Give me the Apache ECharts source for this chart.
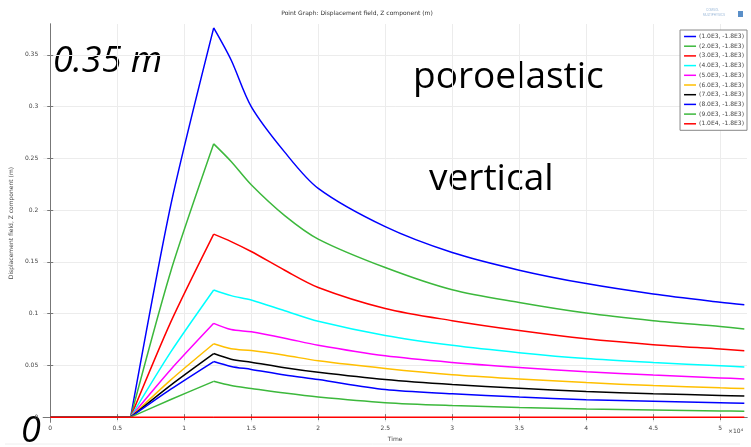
<!DOCTYPE html>
<html>
<head>
<meta charset="utf-8">
<script src="https://cdn.jsdelivr.net/npm/echarts@6/dist/echarts.min.js"></script>
<style>
  html, body { margin: 0; padding: 0; background: #fff; }
  #chart { width: 751px; height: 447px; }
</style>
</head>
<body>
<div id="chart"></div>
<script>
// time axis (x 10^4), shared by all series
var times = [0, 0.6, 0.9, 1.22, 1.35, 1.5, 1.75, 2, 2.5, 3, 3.5, 4, 4.5, 5, 5.18];

var names = ['(1.0E3, -1.8E3)', '(2.0E3, -1.8E3)', '(3.0E3, -1.8E3)', '(4.0E3, -1.8E3)', '(5.0E3, -1.8E3)',
             '(6.0E3, -1.8E3)', '(7.0E3, -1.8E3)', '(8.0E3, -1.8E3)', '(9.0E3, -1.8E3)', '(1.0E4, -1.8E3)'];

var s1  = [0, 0, 0.205, 0.376, 0.345, 0.300, 0.256, 0.221, 0.184, 0.159, 0.142, 0.129, 0.119, 0.111, 0.1085];
var s2  = [0, 0, 0.141, 0.264, 0.247, 0.2245, 0.1947, 0.172, 0.1445, 0.123, 0.1107, 0.1005, 0.0932, 0.0875, 0.0852];
var s3  = [0, 0, 0.092, 0.1768, 0.1696, 0.160, 0.1419, 0.1253, 0.105, 0.0932, 0.0837, 0.0757, 0.070, 0.0658, 0.0642];
var s4  = [0, 0, 0.063, 0.1228, 0.1174, 0.1132, 0.1028, 0.0926, 0.0789, 0.0694, 0.0623, 0.0566, 0.0528, 0.0496, 0.0484];
var s5  = [0, 0, 0.046, 0.0906, 0.0846, 0.0824, 0.0763, 0.0694, 0.0592, 0.0528, 0.048, 0.0439, 0.0407, 0.0379, 0.0369];
var s6  = [0, 0, 0.036, 0.0709, 0.0661, 0.0643, 0.0598, 0.0544, 0.047, 0.041, 0.0369, 0.0334, 0.0305, 0.0283, 0.0277];
var s7  = [0, 0, 0.031, 0.0614, 0.056, 0.0531, 0.0477, 0.0433, 0.0363, 0.0315, 0.028, 0.0248, 0.0226, 0.021, 0.0203];
var s8  = [0, 0, 0.027, 0.0537, 0.049, 0.0461, 0.0407, 0.0363, 0.0267, 0.0226, 0.0194, 0.0169, 0.0153, 0.014, 0.0134];
var s9  = [0, 0, 0.017, 0.0346, 0.0305, 0.0277, 0.0232, 0.0194, 0.014, 0.0112, 0.0093, 0.0079, 0.007, 0.006, 0.0057];
var s10 = [0, 0, 0, 0, 0, 0, 0, 0, 0, 0, 0, 0, 0, 0, 0];

var xTicks = [0, 0.5, 1, 1.5, 2, 2.5, 3, 3.5, 4, 4.5, 5];
var yTicks = [0, 0.05, 0.1, 0.15, 0.2, 0.25, 0.3, 0.35];

var colors = ['#0000ff', '#3cb83c', '#ff0000', '#00ffff', '#ff00ff', '#ffbf00', '#000000', '#0000ff', '#3cb83c', '#ff0000'];
var allSeries = [s1, s2, s3, s4, s5, s6, s7, s8, s9, s10];

var chart = echarts.init(document.getElementById('chart'));

// each curve in 3 pieces (flat / rise / decay) so the smoothing keeps the kinks sharp
var pieces = [[0, 1, false], [1, 3, 0.25], [3, times.length - 1, 0.3]];
var series = [];
for (var i = 0; i < allSeries.length; i++) {
    for (var p = 0; p < pieces.length; p++) {
        var pts = [];
        for (var j = pieces[p][0]; j <= pieces[p][1]; j++) {
            pts.push([times[j], allSeries[i][j]]);
        }
        series.push({
            name: names[i],
            type: 'line',
            data: pts,
            smooth: pieces[p][2],
            showSymbol: false,
            lineStyle: { width: 1.5, color: colors[i] },
            itemStyle: { color: colors[i] },
            animation: false
        });
    }
}

var labelStyle = { fontSize: 6, color: '#444', fontFamily: 'DejaVu Sans' };

var option = {
    backgroundColor: '#fff',
    animation: false,
    color: colors,
    title: {
        text: 'Point Graph: Displacement field, Z component (m)',
        left: 352, top: 5, textAlign: 'center',
        textStyle: { fontSize: 6, fontWeight: 'normal', color: '#333', fontFamily: 'DejaVu Sans' }
    },
    grid: { left: 43, right: 4, top: 24, bottom: 20 },
    legend: {
        orient: 'vertical',
        right: 4, top: 30,
        backgroundColor: '#fff',
        borderColor: '#888', borderWidth: 1,
        padding: [3, 3, 3, 4],
        itemWidth: 12, itemHeight: 1.5, itemGap: 2.7,
        icon: 'rect',
        textStyle: { fontSize: 6, lineHeight: 7, color: '#444', fontFamily: 'DejaVu Sans', padding: [0, 0, 0, -2] },
        data: names
    },
    xAxis: [{
        type: 'value',
        min: -0.052, max: 5.2,
        name: 'Time', nameLocation: 'middle', nameGap: 10,
        nameTextStyle: labelStyle,
        axisLine: { lineStyle: { color: '#777', width: 1 } },
        axisTick: { inside: true, length: 3, customValues: xTicks, lineStyle: { color: '#777' } },
        axisLabel: { customValues: xTicks, fontSize: 6, color: '#444', margin: 3, fontFamily: 'DejaVu Sans' },
        splitLine: { show: true, lineStyle: { color: '#ececec', width: 1 } }
    }, {
        type: 'value', position: 'top',
        min: -0.052, max: 5.2,
        axisLine: { lineStyle: { color: '#777', width: 1 } },
        axisTick: { inside: true, length: 3, customValues: xTicks, lineStyle: { color: '#777' } },
        axisLabel: { show: false },
        splitLine: { show: false }
    }],
    yAxis: [{
        type: 'value',
        min: -0.0048, max: 0.3798,
        name: 'Displacement field, Z component (m)', nameLocation: 'middle', nameGap: 29,
        nameTextStyle: labelStyle,
        axisLine: { show: true, lineStyle: { color: '#777', width: 1 } },
        axisTick: { show: true, inside: true, length: 3, customValues: yTicks, lineStyle: { color: '#777' } },
        axisLabel: { customValues: yTicks, fontSize: 6, color: '#444', margin: 5, fontFamily: 'DejaVu Sans' },
        splitLine: { show: true, lineStyle: { color: '#ececec', width: 1 } }
    }, {
        type: 'value', position: 'right',
        min: -0.0048, max: 0.3798,
        axisLine: { show: true, lineStyle: { color: '#777', width: 1 } },
        axisTick: { show: true, inside: true, length: 3, customValues: yTicks, lineStyle: { color: '#777' } },
        axisLabel: { show: false },
        splitLine: { show: false }
    }],
    graphic: [
        { type: 'text', left: 728, top: 428, style: { text: '×10⁴', fontSize: 6, fill: '#444', fontFamily: 'DejaVu Sans' } },
        { type: 'text', x: 53, y: 62, style: { text: '0.35 m', font: 'italic 36px "Open Sans"', fill: '#000', verticalAlign: 'middle' } },
        { type: 'text', x: 413, y: 77, style: { text: 'poroelastic', font: '37px "Open Sans"', fill: '#000', verticalAlign: 'middle' } },
        { type: 'text', x: 429, y: 179, style: { text: 'vertical', font: '37px "Open Sans"', fill: '#000', verticalAlign: 'middle' } },
        { type: 'text', x: 21, y: 432, style: { text: '0', font: 'italic 36px "Open Sans"', fill: '#000', verticalAlign: 'middle' } },
        { type: 'text', x: 706, y: 9, style: { text: 'COMSOL', fontSize: 3, fill: '#9ab8d8' } },
        { type: 'text', x: 703, y: 14, style: { text: 'MULTIPHYSICS', fontSize: 3, fill: '#9ab8d8' } },
        { type: 'rect', shape: { x: 738, y: 11, width: 5, height: 6 }, style: { fill: '#5a8fc8' } },
        { type: 'line', shape: { x1: 5, y1: 444, x2: 740, y2: 444 }, style: { stroke: '#eeeeee', lineWidth: 1 } }
    ],
    series: series
};

chart.setOption(option);
</script>
</body>
</html>
